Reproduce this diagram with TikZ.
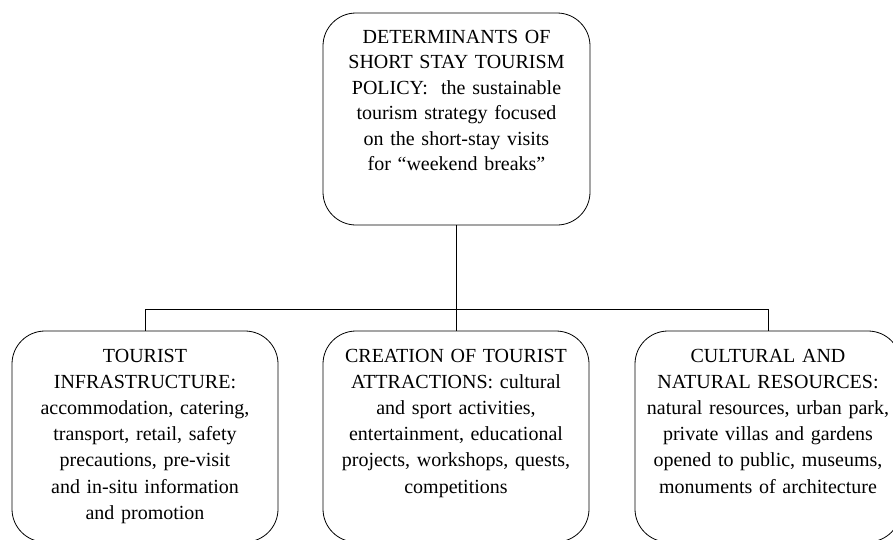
\documentclass[tikz,border=0pt]{standalone}
\usepackage{fontspec}
\setmainfont{Liberation Serif}
\begin{document}
\begin{tikzpicture}[x=1pt,y=-1pt,
  box/.style={draw, line width=0.8pt, rounded corners=33pt, inner sep=0pt},
  boxtext/.style={anchor=base, inner sep=0pt, align=center, text width=280pt,
    font=\fontsize{20}{26.2}\selectfont},
  link/.style={draw, line width=0.9pt}]
\useasboundingbox (0,0) rectangle (893,539);

% boxes
\node[box, minimum width=267pt, minimum height=212pt] (top) at (456.5,119) {};
\node[box, minimum width=266pt, minimum height=211pt] (infra) at (145,436.5) {};
\node[box, minimum width=266pt, minimum height=211pt] (attr) at (456,436.5) {};
\node[box, minimum width=266pt, minimum height=211pt] (res) at (768,436.5) {};

% texts
\node[boxtext, font=\fontsize{20}{25.5}\selectfont] (toptext) at (456.5,43)
  {DETERMINANTS OF\\ SHORT STAY TOURISM\\ POLICY:\ \ the sustainable\\
   tourism strategy focused\\ on the short-stay visits\\ for “weekend breaks”};
\node[boxtext] (infratext) at (145,362)
  {TOURIST\\ INFRASTRUCTURE:\\ accommodation, catering,\\ transport, retail, safety\\
   precautions, pre-visit\\ and in-situ information\\ and promotion};
\node[boxtext] (attrtext) at (456,362)
  {CREATION OF TOURIST\\ ATTRACTIONS: cultural\\ and sport activities,\\
   entertainment, educational\\ projects, workshops, quests,\\ competitions};
\node[boxtext] (restext) at (768,362)
  {CULTURAL AND\\ NATURAL RESOURCES:\\ natural resources, urban park,\\
   private villas and gardens\\ opened to public, museums,\\ monuments of architecture};

% connectors
\coordinate (bus) at (456.5,309);
\draw[link] (top.south) -- (bus);
\draw[link] (infra.north) |- (bus);
\draw[link] (res.north) |- (bus);
\draw[link] (attr.north) -- (attr.north |- bus);
\end{tikzpicture}
\end{document}
